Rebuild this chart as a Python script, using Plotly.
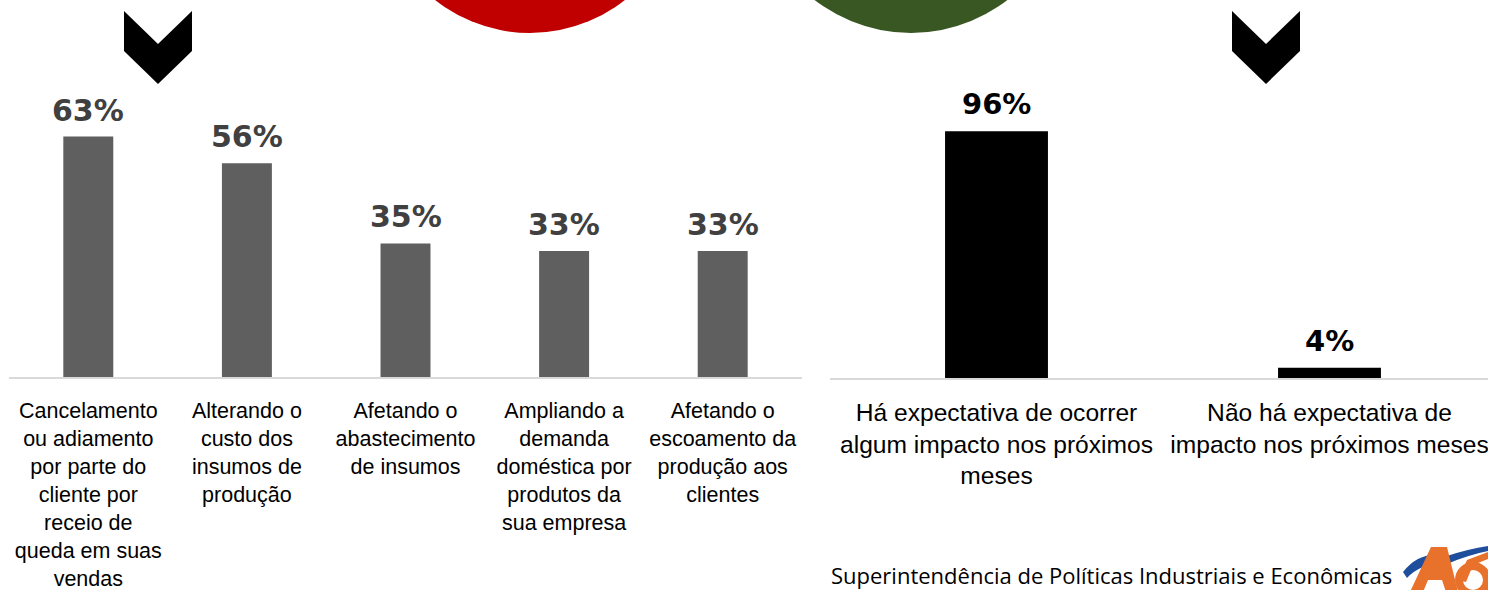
import plotly.graph_objects as go

W, H = 1488, 590

# ---------------- data ----------------
left_categories = [
    "Cancelamento<br>ou adiamento<br>por parte do<br>cliente por<br>receio de<br>queda em suas<br>vendas",
    "Alterando o<br>custo dos<br>insumos de<br>produção",
    "Afetando o<br>abastecimento<br>de insumos",
    "Ampliando a<br>demanda<br>doméstica por<br>produtos da<br>sua empresa",
    "Afetando o<br>escoamento da<br>produção aos<br>clientes",
]
left_values = [63, 56, 35, 33, 33]

right_categories = [
    "Há expectativa de ocorrer<br>algum impacto nos próximos<br>meses",
    "Não há expectativa de<br>impacto nos próximos meses",
]
right_values = [96, 4]

footer_text = "Superintendência de Políticas Industriais e Econômicas"


def px(x):
    return x / W


def py(y):
    return 1 - y / H


fig = go.Figure()

fig.add_trace(go.Bar(
    x=left_categories, y=left_values, xaxis="x", yaxis="y",
    marker=dict(color="#5F5F5F", line=dict(width=0)), width=0.315,
    hoverinfo="skip", showlegend=False,
))
fig.add_trace(go.Bar(
    x=right_categories, y=right_values, xaxis="x2", yaxis="y2",
    marker=dict(color="#000000", line=dict(width=0)), width=0.309,
    hoverinfo="skip", showlegend=False,
))

annotations = []
for c, v in zip(left_categories, left_values):
    annotations.append(dict(
        x=c, y=v, xref="x", yref="y", text=f"{v}%", showarrow=False,
        yanchor="bottom", yshift=7,
        font=dict(family="DejaVu Sans", size=30, color="#404040", weight="bold"),
    ))
for c, v in zip(right_categories, right_values):
    annotations.append(dict(
        x=c, y=v, xref="x2", yref="y2", text=f"{v}%", showarrow=False,
        yanchor="bottom", yshift=8,
        font=dict(family="DejaVu Sans", size=29, color="#000000", weight="bold"),
    ))
annotations.append(dict(
    x=px(829), y=py(558), xref="paper", yref="paper", text=footer_text,
    showarrow=False, xanchor="left", yanchor="top",
    font=dict(family="Open Sans", size=22, color="#000000"),
))

shapes = []
# decorative circles at the top
shapes.append(dict(type="circle", xref="paper", yref="paper",
                   x0=px(377), x1=px(683), y0=py(-273), y1=py(33),
                   fillcolor="#C00000", line=dict(width=0), layer="below"))
shapes.append(dict(type="circle", xref="paper", yref="paper",
                   x0=px(754), x1=px(1068), y0=py(-280), y1=py(33),
                   fillcolor="#385723", line=dict(width=0), layer="below"))


# chevrons
def chevron(x0, x1, ytop, ynotch, yside, ytip):
    xm = (x0 + x1) / 2
    pts = [(x0, ytop), (xm, ynotch), (x1, ytop), (x1, yside), (xm, ytip), (x0, yside)]
    d = "M " + " L ".join(f"{px(a):.5f},{py(b):.5f}" for a, b in pts) + " Z"
    return dict(type="path", xref="paper", yref="paper", path=d,
                fillcolor="#000000", line=dict(width=0))


shapes.append(chevron(124, 192, 11, 44, 51, 84))
shapes.append(chevron(1232, 1300, 11, 44, 51, 84))


# logo (approximation)
def path_from(pts, close=True):
    return "M " + " L ".join(f"{px(a):.5f},{py(b):.5f}" for a, b in pts) + (" Z" if close else "")


orange = "#E8712B"
blue = "#1F4F9C"
shapes.append(dict(type="path", xref="paper", yref="paper",
                   path=(f"M {px(1403):.5f},{py(572):.5f} "
                         f"Q {px(1420):.5f},{py(550):.5f} {px(1447):.5f},{py(556):.5f} "
                         f"Q {px(1468):.5f},{py(549):.5f} {px(1488):.5f},{py(546):.5f} "
                         f"L {px(1488):.5f},{py(551):.5f} "
                         f"Q {px(1468):.5f},{py(555):.5f} {px(1447):.5f},{py(564):.5f} "
                         f"Q {px(1422):.5f},{py(562):.5f} {px(1407):.5f},{py(578):.5f} Z"),
                   fillcolor=blue, line=dict(width=0)))
shapes.append(dict(type="path", xref="paper", yref="paper",
                   path=path_from([(1410, 592), (1431, 547), (1447, 547), (1458, 592),
                                   (1446, 592), (1442, 580), (1428, 580), (1423, 592)]),
                   fillcolor=orange, line=dict(width=0)))
shapes.append(dict(type="circle", xref="paper", yref="paper",
                   x0=px(1459), x1=px(1487), y0=py(594), y1=py(566),
                   fillcolor="rgba(0,0,0,0)", line=dict(color=orange, width=8)))
shapes.append(dict(type="path", xref="paper", yref="paper",
                   path=path_from([(1458, 580), (1467, 560), (1488, 552), (1488, 559), (1473, 565), (1466, 582)]),
                   fillcolor=orange, line=dict(width=0)))

fig.update_layout(
    width=W, height=H,
    margin=dict(l=0, r=0, t=0, b=0, autoexpand=False),
    paper_bgcolor="white", plot_bgcolor="rgba(0,0,0,0)",
    xaxis=dict(domain=[px(9), px(802)], range=[-0.5, 4.5], showline=True,
               linecolor="#D9D9D9", linewidth=2, showgrid=False, zeroline=False,
               automargin=False,
               ticks="", tickfont=dict(family="Liberation Sans, Arial", size=21.5, color="#000000"),
               ticklabelstandoff=13, fixedrange=True),
    yaxis=dict(domain=[py(377), 1], range=[0, 98.8], visible=False, fixedrange=True,
               automargin=False),
    xaxis2=dict(domain=[px(830), 1], range=[-0.5, 1.476], anchor="y2", showline=True,
                linecolor="#D9D9D9", linewidth=2, showgrid=False, zeroline=False,
                automargin=False,
                ticks="", tickfont=dict(family="Liberation Sans, Arial", size=24.6, color="#000000"),
                ticklabelstandoff=11, fixedrange=True),
    yaxis2=dict(domain=[py(378), 1], range=[0, 147], visible=False, anchor="x2", fixedrange=True,
                automargin=False),
    annotations=annotations,
    shapes=shapes,
)

fig.write_html(
    "out.html",
    config={"displayModeBar": False},
    post_script="document.body.style.margin='0';document.body.style.overflow='hidden';",
)
